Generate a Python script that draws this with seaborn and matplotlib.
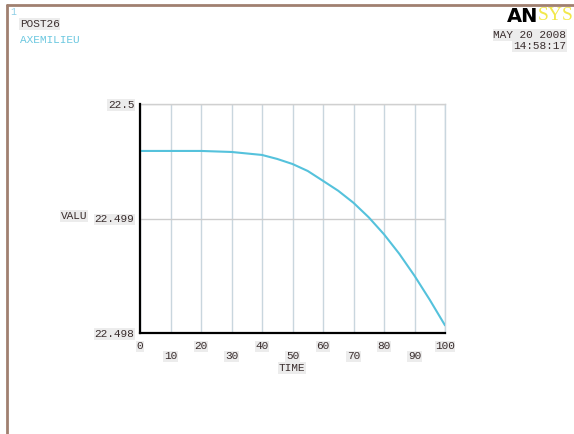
import matplotlib
matplotlib.use("Agg")
import matplotlib.pyplot as plt
from matplotlib.lines import Line2D
import seaborn as sns
import pandas as pd

time = [0, 10, 20, 30, 40, 45, 50, 55, 60, 65, 70, 75, 80, 85, 90, 95, 100]
valu = [22.49959, 22.49959, 22.49959, 22.499581, 22.499555, 22.49952,
        22.499476, 22.499415, 22.499329, 22.499242, 22.499137, 22.49901,
        22.498862, 22.498692, 22.4985, 22.49829, 22.498067]
even_ticks = [0, 20, 40, 60, 80, 100]
odd_ticks = [10, 30, 50, 70, 90]
y_ticks = [22.498, 22.499, 22.5]
y_labels = ["22.498", "22.499", "22.5"]

sns.set_style("white")
plt.rcParams['font.family'] = ['Liberation Mono', 'DejaVu Sans Mono']

fig = plt.figure(figsize=(5.74, 4.34), dpi=100)
ax = fig.add_axes([140/574, 1-333/434, 305/574, 229/434])

df = pd.DataFrame({"TIME": time, "VALU": valu})
sns.lineplot(data=df, x="TIME", y="VALU", ax=ax, color="#55c2dc", lw=1.5, zorder=5)

ax.set_xlim(0, 100)
ax.set_ylim(22.498, 22.5)
ax.set_xticks(even_ticks)
ax.set_xticks(odd_ticks, minor=True)
ax.set_xticklabels([str(t) for t in even_ticks])
ax.set_xticklabels([str(t) for t in odd_ticks], minor=True)
ax.set_yticks(y_ticks)
ax.set_yticklabels(y_labels)

bb = dict(boxstyle="square,pad=0.05", fc="#ececec", ec="none")
txtc = "#3a2e2e"
for lab in ax.get_xticklabels() + ax.get_xticklabels(minor=True) + ax.get_yticklabels():
    lab.set_fontsize(8)
    lab.set_color(txtc)
    lab.set_bbox(bb)
ax.tick_params(axis="x", which="major", length=4, pad=2, color="#c8d4dc")
ax.tick_params(axis="x", which="minor", length=4, pad=9, color="#c8d4dc")
ax.tick_params(axis="y", length=0, pad=4)

ax.grid(True, which="both", axis="x", color="#c9d6de", lw=1)
ax.grid(True, which="major", axis="y", color="#cccccc", lw=1)

ax.set_xlabel("")
ax.set_ylabel("")
for s in ["left", "bottom"]:
    ax.spines[s].set_color("black")
    ax.spines[s].set_linewidth(1.6)
ax.spines["top"].set_color("#d0d0d0")
ax.spines["top"].set_linewidth(1)
ax.spines["right"].set_color("#c9d6de")
ax.spines["right"].set_linewidth(1)
ax.spines["left"].set_zorder(6)
ax.spines["bottom"].set_zorder(6)

def ftext(x, y, s, **kw):
    fig.text(x/574, 1-y/434, s, **kw)

ftext(292, 368, "TIME", fontsize=8, color=txtc, ha="center", va="center", bbox=bb)
ftext(74, 216, "VALU", fontsize=8, color=txtc, ha="center", va="center", bbox=bb)
ftext(10, 12, "1", fontsize=7, color="#8fcfe6", ha="left", va="center")
ftext(20, 24, "POST26", fontsize=8, color=txtc, ha="left", va="center", bbox=bb)
ftext(20, 40, "AXEMILIEU", fontsize=8, color="#6cc8e0", ha="left", va="center")
ftext(566, 35, "MAY 20 2008", fontsize=8, color=txtc, ha="right", va="center", bbox=bb)
ftext(566, 46, "14:58:17", fontsize=8, color=txtc, ha="right", va="center", bbox=bb)
ftext(538, 16, "AN", fontsize=14, color="black", ha="right", va="center",
      fontweight="bold", family=["DejaVu Sans"])
ftext(538, 16, "SYS", fontsize=14, color="#f2e84a", ha="left", va="center",
      family=["Liberation Serif"])

fig.add_artist(Line2D([7/574, 7/574], [0, 1-5/434], transform=fig.transFigure,
                      color="#a08070", lw=2))
fig.add_artist(Line2D([7/574, 1], [1-5/434, 1-5/434], transform=fig.transFigure,
                      color="#a08070", lw=2))

fig.savefig("out.png", dpi=100)
